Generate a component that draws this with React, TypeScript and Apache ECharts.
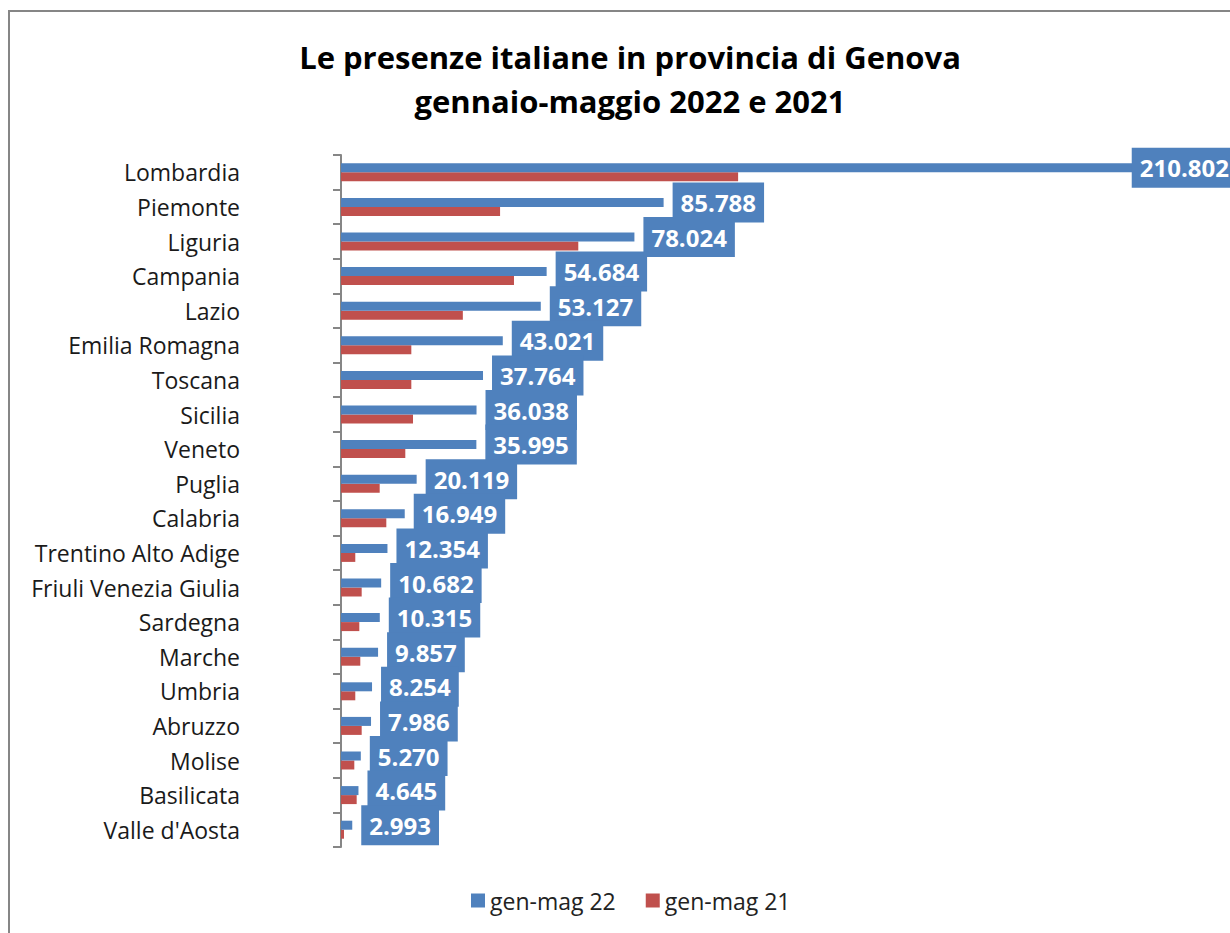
import React, { useEffect, useRef } from "react";
import * as echarts from "echarts";

const categories = [
  "Lombardia", "Piemonte", "Liguria", "Campania", "Lazio", "Emilia Romagna",
  "Toscana", "Sicilia", "Veneto", "Puglia", "Calabria", "Trentino Alto Adige",
  "Friuli Venezia Giulia", "Sardegna", "Marche", "Umbria", "Abruzzo", "Molise",
  "Basilicata", "Valle d'Aosta",
];
const genMag22 = [
  210802, 85788, 78024, 54684, 53127, 43021, 37764, 36038, 35995, 20119,
  16949, 12354, 10682, 10315, 9857, 8254, 7986, 5270, 4645, 2993,
];
const genMag21 = [
  105600, 42300, 63100, 46000, 32400, 18700, 18700, 19150, 17100, 10290,
  12050, 3800, 5500, 4870, 5130, 3800, 5500, 3540, 4170, 800,
];
const seriesNames = ["gen-mag 22", "gen-mag 21"];
const titleText = "Le presenze italiane in provincia di Genova\ngennaio-maggio 2022 e 2021";

const fmt = (v: number) => String(v).replace(/\B(?=(\d{3})+(?!\d))/g, ".");

export default function App() {
  const ref = useRef<HTMLDivElement>(null);
  useEffect(() => {
    if (!ref.current) return;
    const chart = echarts.init(ref.current, null, { renderer: "svg" });
    chart.setOption({
      animation: false,
      backgroundColor: "#ffffff",
      title: {
        text: titleText,
        left: 625,
        textAlign: "center",
        top: 30,
        textStyle: {
          fontFamily: "Open Sans",
          fontWeight: "bold",
          fontSize: 31,
          lineHeight: 44,
          color: "#000000",
        },
      },
      graphic: [
        {
          type: "rect",
          shape: { x: 9, y: 11, width: 1400, height: 1100 },
          style: { fill: "none", stroke: "#868686", lineWidth: 2 },
          silent: true,
        },
      ],
      legend: {
        left: 466,
        top: 884,
        itemWidth: 14,
        itemHeight: 14,
        itemGap: 30,
        icon: "rect",
        textStyle: { fontFamily: "Open Sans", fontSize: 23, color: "#222222" },
        data: seriesNames,
      },
      grid: { left: 341, right: 0, top: 155, bottom: 86, containLabel: false },
      xAxis: {
        type: "value",
        min: 0,
        max: 236400,
        show: false,
        splitLine: { show: false },
      },
      yAxis: {
        type: "category",
        inverse: true,
        data: categories,
        axisLine: { show: true, lineStyle: { color: "#868686", width: 2 } },
        axisTick: { show: true, length: 8, lineStyle: { color: "#868686", width: 2 } },
        axisLabel: {
          margin: 101,
          fontFamily: "Open Sans",
          fontSize: 23,
          color: "#1a1a1a",
        },
      },
      series: [
        {
          name: seriesNames[0],
          type: "bar",
          barWidth: 9,
          barGap: "0%",
          itemStyle: { color: "#4F81BD" },
          data: genMag22.map((v, i) =>
            i === 0 ? { value: v, label: { offset: [-11, 0] } } : v
          ),
          label: {
            show: true,
            position: "right",
            distance: 9,
            formatter: (p: any) => fmt(p.value),
            backgroundColor: "#4F81BD",
            color: "#ffffff",
            fontFamily: "Open Sans",
            fontWeight: "bold",
            fontSize: 24,
            lineHeight: 30,
            padding: [5, 8],
          },
          z: 3,
        },
        {
          name: seriesNames[1],
          type: "bar",
          barWidth: 9,
          itemStyle: { color: "#C0504D" },
          data: genMag21,
          z: 2,
        },
      ],
    });
    return () => chart.dispose();
  }, []);
  return (
    <div
      ref={ref}
      style={{ position: "fixed", left: 0, top: 0, width: 1230, height: 933 }}
    />
  );
}
